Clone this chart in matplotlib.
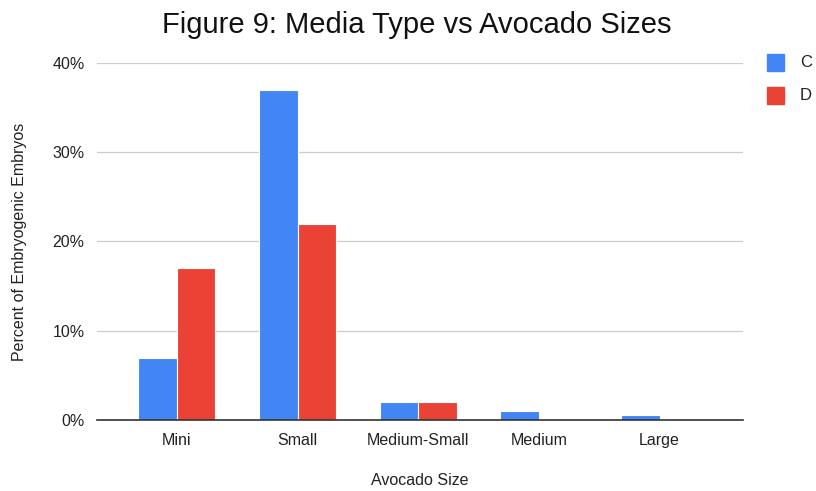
import matplotlib.pyplot as plt
import numpy as np
from matplotlib.patches import Rectangle

plt.rcParams['font.family'] = ['Liberation Sans', 'DejaVu Sans']

sizes = ['Mini', 'Small', 'Medium-Small', 'Medium', 'Large']
media_c = [7, 37, 2, 1, 0.55]
media_d = [17, 22, 2, 0, 0]
series = ['C', 'D']
colors = ['#4285F4', '#EA4335']

fig = plt.figure(figsize=(8.16, 4.91), dpi=100)
ax = fig.add_axes([0.119, 0.1446, 0.7915, 0.7271])

x = np.arange(len(sizes))
w = 0.32
ax.bar(x - w / 2, media_c, w, color=colors[0], edgecolor='white', linewidth=0.8, zorder=3)
ax.bar(x + w / 2, media_d, w, color=colors[1], edgecolor='white', linewidth=0.8, zorder=3)

ax.set_xlim(-0.66, 4.69)
ax.set_ylim(0, 40)
ax.set_yticks([0, 10, 20, 30, 40])
ax.set_yticklabels(['0%', '10%', '20%', '30%', '40%'])
ax.set_xticks(x)
ax.set_xticklabels(sizes)
ax.tick_params(axis='both', length=0, labelsize=11.5, colors='#222222', pad=9)
ax.tick_params(axis='x', pad=9)
ax.grid(axis='y', color='#cccccc', linewidth=0.9, zorder=0)
for s in ['top', 'right', 'left']:
    ax.spines[s].set_visible(False)
ax.spines['bottom'].set_color('#333333')
ax.spines['bottom'].set_linewidth(1.2)
ax.spines['bottom'].set_zorder(4)

ax.set_xlabel('Avocado Size', fontsize=11.5, color='#222222', labelpad=18)
ax.set_ylabel('Percent of Embryogenic Embryos', fontsize=11.5, color='#222222', labelpad=18)
fig.suptitle('Figure 9: Media Type vs Avocado Sizes', fontsize=21, x=0.511, y=0.978, color='#111111')

# legend on the right
for i, (name, col) in enumerate(zip(series, colors)):
    yy = 0.872 - i * 0.067
    fig.patches.append(Rectangle((0.940, yy - 0.017), 0.021, 0.035, color=col,
                                 transform=fig.transFigure, figure=fig))
    fig.text(0.980, yy, name, fontsize=12, va='center', color='#222222')

fig.savefig('out.png', dpi=100)
